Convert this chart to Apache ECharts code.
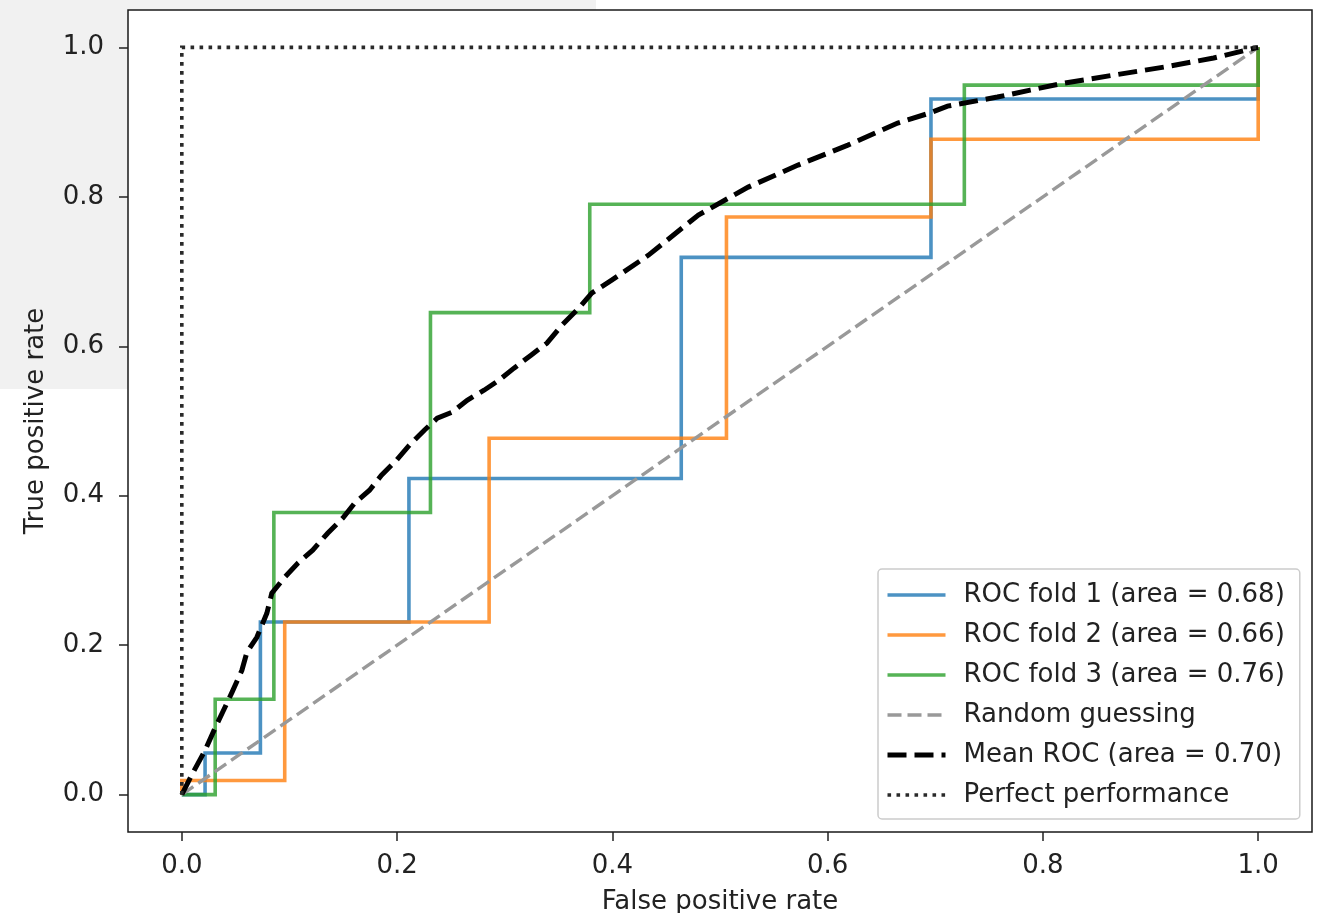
<!DOCTYPE html>
<html>
<head>
<meta charset="utf-8">
<script src="https://cdn.jsdelivr.net/npm/echarts@6/dist/echarts.min.js"></script>
<style>
  html, body { margin: 0; padding: 0; background: #fff; }
  #shade { position: absolute; left: 0; top: 0; width: 596px; height: 389px; background: #f1f1f1; }
  #chart { position: absolute; left: 0; top: 0; width: 1320px; height: 913px; }
</style>
</head>
<body>
<div id="shade"></div>
<div id="chart"></div>
<script>
// ROC curves from 3-fold cross validation
const fold1Fpr = [0, 0.0216, 0.0216, 0.073, 0.073, 0.211, 0.211, 0.464, 0.464, 0.696, 0.696, 1, 1];
const fold1Tpr = [0, 0, 0.0557, 0.0557, 0.231, 0.231, 0.423, 0.423, 0.719, 0.719, 0.931, 0.931, 1];
const fold2Fpr = [0, 0, 0.0956, 0.0956, 0.2855, 0.2855, 0.506, 0.506, 0.696, 0.696, 1, 1];
const fold2Tpr = [0, 0.019, 0.019, 0.231, 0.231, 0.477, 0.477, 0.773, 0.773, 0.877, 0.877, 1];
const fold3Fpr = [0, 0.031, 0.031, 0.0855, 0.0855, 0.231, 0.231, 0.379, 0.379, 0.727, 0.727, 1, 1];
const fold3Tpr = [0, 0, 0.1276, 0.1276, 0.3775, 0.3775, 0.645, 0.645, 0.79, 0.79, 0.9495, 0.9495, 1];
const meanFpr = [0, 0.0105, 0.0216, 0.0308, 0.0401, 0.0466, 0.0558, 0.0605, 0.0697, 0.079, 0.0836,
  0.0956, 0.1077, 0.1216, 0.1355, 0.1494, 0.1605, 0.1744, 0.1855, 0.1994, 0.2114, 0.2253, 0.2373,
  0.2512, 0.2651, 0.2808, 0.2947, 0.3086, 0.3244, 0.3392, 0.3531, 0.3688, 0.3808, 0.3994, 0.4336,
  0.4799, 0.5262, 0.5725, 0.6188, 0.6651, 0.6947, 0.7114, 0.7577, 0.7882, 0.8197, 0.866, 0.9123,
  0.9586, 0.9892, 1];
const meanTpr = [0, 0.0299, 0.0593, 0.0888, 0.1169, 0.1369, 0.1664, 0.1905, 0.2106, 0.2427, 0.2695,
  0.2909, 0.3097, 0.3271, 0.3498, 0.3699, 0.39, 0.4074, 0.4275, 0.4475, 0.4676, 0.4877, 0.5037,
  0.5118, 0.5278, 0.5412, 0.5546, 0.5707, 0.5881, 0.6042, 0.6283, 0.6511, 0.6711, 0.6885, 0.722,
  0.7756, 0.813, 0.8425, 0.8692, 0.8987, 0.9121, 0.9214, 0.9335, 0.9428, 0.9522, 0.9629, 0.9736,
  0.9857, 0.9964, 1];
const randomFpr = [0, 1];
const randomTpr = [0, 1];
const perfectFpr = [0, 0, 1];
const perfectTpr = [0, 1, 1];
const foldAuc = [0.68, 0.66, 0.76];
const meanAuc = 0.70;
const tickValues = [0, 0.2, 0.4, 0.6, 0.8, 1.0];

const pairs = (xs, ys) => xs.map((x, i) => [x, ys[i]]);
const FONT = 'DejaVu Sans';
const TEXT = '#222';

const names = [
  'ROC fold 1 (area = ' + foldAuc[0].toFixed(2) + ')',
  'ROC fold 2 (area = ' + foldAuc[1].toFixed(2) + ')',
  'ROC fold 3 (area = ' + foldAuc[2].toFixed(2) + ')',
  'Random guessing',
  'Mean ROC (area = ' + meanAuc.toFixed(2) + ')',
  'Perfect performance'
];

function lineSeries(name, data, color, width, type, opacity) {
  return {
    name, type: 'line', data, symbol: 'none', showSymbol: false,
    animation: false, silent: true,
    itemStyle: { color, opacity },
    lineStyle: { color, width, type, opacity, cap: 'butt', join: 'miter' }
  };
}

function axis(margin, extra) {
  return Object.assign({
    type: 'value', min: -0.05, max: 1.05,
    splitLine: { show: false },
    axisLine: { show: false, onZero: false },
    axisTick: { show: true, length: 9, inside: false, customValues: tickValues,
                lineStyle: { color: TEXT, width: 1.5 } },
    axisLabel: { customValues: tickValues, formatter: v => v.toFixed(1), margin,
                 color: TEXT, fontSize: 26, fontFamily: FONT },
    nameLocation: 'middle',
    nameTextStyle: { color: TEXT, fontSize: 26, fontFamily: FONT }
  }, extra);
}

const chart = echarts.init(document.getElementById('chart'), null, { renderer: 'canvas' });
chart.setOption({
  backgroundColor: 'transparent',
  animation: false,
  grid: {
    left: 128, top: 10, right: 8, bottom: 81,
    outerBoundsMode: 'none', containLabel: false,
    show: true, backgroundColor: '#fff', borderColor: '#1a1a1a', borderWidth: 1.5
  },
  xAxis: axis(21, { name: 'False positive rate', nameGap: 57 }),
  yAxis: axis(24, { name: 'True positive rate', nameGap: 79 }),
  legend: {
    orient: 'vertical', left: 878, top: 569,
    padding: [11, 15, 9, 7],
    itemWidth: 58, itemHeight: 14, itemGap: 10,
    backgroundColor: 'rgba(255,255,255,0.8)',
    borderColor: '#cccccc', borderWidth: 1.5, borderRadius: 4,
    selectedMode: false,
    itemStyle: { opacity: 0, borderWidth: 0 },
    lineStyle: { width: 'inherit' },
    textStyle: { color: TEXT, fontSize: 26, fontFamily: FONT, lineHeight: 30, padding: [0, 0, 0, 13] },
    data: names
  },
  series: [
    lineSeries(names[0], pairs(fold1Fpr, fold1Tpr), '#1f77b4', 3.6, 'solid', 0.8),
    lineSeries(names[1], pairs(fold2Fpr, fold2Tpr), '#ff7f0e', 3.6, 'solid', 0.8),
    lineSeries(names[2], pairs(fold3Fpr, fold3Tpr), '#2ca02c', 3.6, 'solid', 0.8),
    lineSeries(names[3], pairs(randomFpr, randomTpr), '#999999', 3.4, [14, 6], 1),
    lineSeries(names[4], pairs(meanFpr, meanTpr), '#000000', 5, [19, 8], 1),
    lineSeries(names[5], pairs(perfectFpr, perfectTpr), '#2a2a2a', 3.6, [3.6, 5.4], 1)
  ]
});
</script>
</body>
</html>
